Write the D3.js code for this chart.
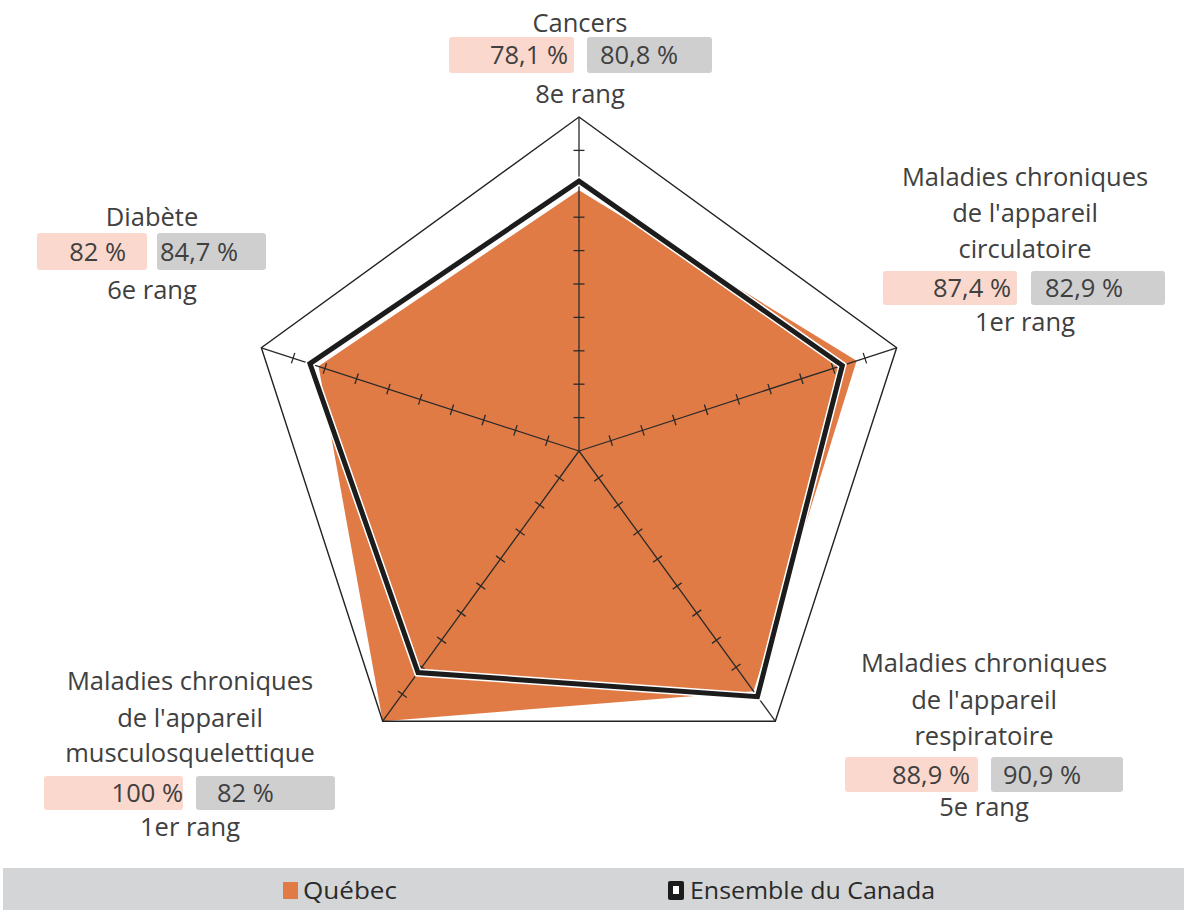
<!DOCTYPE html>
<html><head><meta charset="utf-8">
<script src="https://cdn.jsdelivr.net/npm/d3@7"></script>
<style>body{margin:0;background:#fff}svg{display:block}</style>
</head><body>
<svg id="c" width="1184" height="910"></svg>
<script>
const categories = ["Cancers", "Maladies chroniques\nde l'appareil\ncirculatoire", "Maladies chroniques\nde l'appareil\nrespiratoire", "Maladies chroniques\nde l'appareil\nmusculosquelettique", "Diabète"];
const quebec = [78.1, 87.4, 88.9, 100, 82];
const canada = [80.8, 82.9, 90.9, 82, 84.7];
const ranks = ["8e rang", "1er rang", "5e rang", "1er rang", "6e rang"];
const seriesNames = ["Québec", "Ensemble du Canada"];
const axisTicks = [10, 20, 30, 40, 50, 60, 70, 80, 90];
const axisMax = 100;

// layout (positions only)
const layout = [
  {cx:580, tb:[32], bt:37, bh:36, px:449, pw:125, gx:587, gw:125, pe:568, gs:600, rb:103},
  {cx:1025, tb:[186,222,258], bt:271, bh:34, px:883, pw:134, gx:1031, gw:134, pe:1011, gs:1045, rb:331},
  {cx:984, tb:[672,709,745], bt:757, bh:35, px:845, pw:133, gx:991, gw:132, pe:970, gs:1003, rb:816},
  {cx:190, tb:[690,727,762], bt:776, bh:34, px:44, pw:139, gx:196, gw:139, pe:183, gs:217, rb:836},
  {cx:152, tb:[226], bt:233, bh:37, px:37, pw:110, gx:157, gw:109, pe:126, gs:160, rb:299}
];

const svg = d3.select("#c");
const cx = 579, cy = 451, R = 334;
const r = d3.scaleLinear().domain([0, axisMax]).range([0, R]);
const ang = d3.scaleLinear().domain([0, categories.length]).range([0, 2*Math.PI]);
const pt = (i, v) => [cx + r(v)*Math.sin(ang(i)), cy - r(v)*Math.cos(ang(i))];
const fmt = v => String(v).replace(".", ",") + " %";
const font = "'Open Sans', Lato, sans-serif";
const txtCol = "#404040";

const line = d3.line().curve(d3.curveLinearClosed);

// Québec area
svg.append("path").attr("d", line(quebec.map((v,i)=>pt(i,v)))).attr("fill", "#e17b46");

// outer pentagon
svg.append("path").attr("d", line(categories.map((c,i)=>pt(i,axisMax))))
  .attr("fill","none").attr("stroke","#222").attr("stroke-width",1.4);

// axes with ticks
categories.forEach((c,i) => {
  const [x2,y2] = pt(i, axisMax);
  svg.append("line").attr("x1",cx).attr("y1",cy).attr("x2",x2).attr("y2",y2)
    .attr("stroke","#2a2a2a").attr("stroke-width",1.3);
  const a = ang(i);
  const nx = Math.cos(a), ny = Math.sin(a);
  axisTicks.forEach(t => {
    const [x,y] = pt(i,t);
    svg.append("line").attr("x1",x-nx*5.5).attr("y1",y-ny*5.5).attr("x2",x+nx*5.5).attr("y2",y+ny*5.5)
      .attr("stroke","#2a2a2a").attr("stroke-width",1.3);
  });
});

// Canada line
const cPath = line(canada.map((v,i)=>pt(i,v)));
svg.append("path").attr("d", cPath).attr("fill","none").attr("stroke","#fff").attr("stroke-width",8).attr("stroke-linejoin","miter");
svg.append("path").attr("d", cPath).attr("fill","none").attr("stroke","#1c1c1c").attr("stroke-width",5).attr("stroke-linejoin","miter");

// labels
categories.forEach((c,i) => {
  const L = layout[i];
  const g = svg.append("g").attr("font-family", font).attr("font-size", 25.5).attr("fill", txtCol);
  c.split("\n").forEach((s,k) => {
    g.append("text").attr("x", L.cx).attr("y", L.tb[k]).attr("text-anchor","middle").text(s);
  });
  g.append("rect").attr("x",L.px).attr("y",L.bt).attr("width",L.pw).attr("height",L.bh).attr("rx",3).attr("fill","#fad8cd");
  g.append("rect").attr("x",L.gx).attr("y",L.bt).attr("width",L.gw).attr("height",L.bh).attr("rx",3).attr("fill","#cfcfcf");
  g.append("text").attr("x",L.pe).attr("y",L.bt+L.bh/2+9).attr("text-anchor","end").text(fmt(quebec[i]));
  g.append("text").attr("x",L.gs).attr("y",L.bt+L.bh/2+9).attr("text-anchor","start").text(fmt(canada[i]));
  g.append("text").attr("x",L.cx).attr("y",L.rb).attr("text-anchor","middle").text(ranks[i]);
});

// legend
const lg = svg.append("g");
lg.append("rect").attr("x",3).attr("y",868).attr("width",1181).attr("height",42).attr("fill","#d4d5d7");
lg.append("rect").attr("x",283).attr("y",882).attr("width",15).attr("height",17).attr("fill","#e17b46");
lg.append("text").attr("x",303).attr("y",899).attr("font-family",font).attr("font-size",23).attr("fill","#2a2a2a")
  .attr("textLength",94).attr("lengthAdjust","spacingAndGlyphs").text(seriesNames[0]);
lg.append("rect").attr("x",668).attr("y",881).attr("width",16).attr("height",19).attr("rx",2).attr("fill","#1c1c1c");
lg.append("rect").attr("x",673).attr("y",886).attr("width",6).attr("height",8).attr("fill","#fff");
lg.append("text").attr("x",690).attr("y",899).attr("font-family",font).attr("font-size",23).attr("fill","#2a2a2a")
  .attr("textLength",245).attr("lengthAdjust","spacingAndGlyphs").text(seriesNames[1]);
</script>
</body></html>
